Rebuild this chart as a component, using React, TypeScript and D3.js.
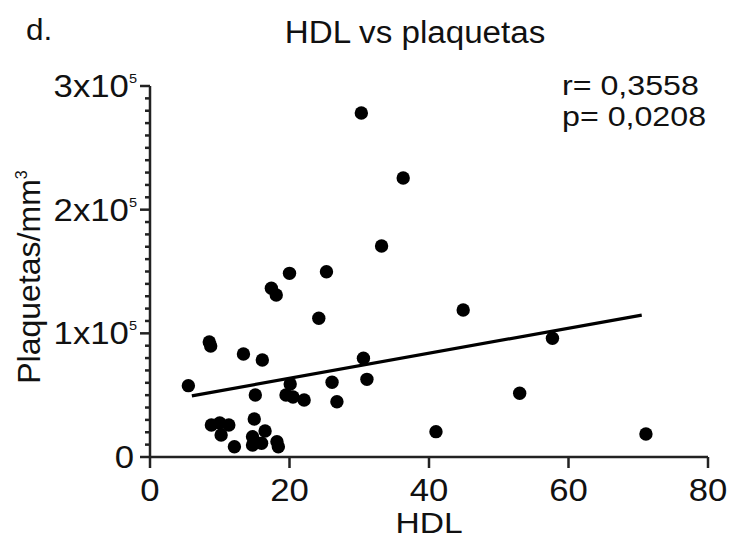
import React, { useEffect } from "react";
import * as d3 from "d3";

const hdl = [5.5, 8.5, 8.7, 20.0, 25.3, 17.4, 18.1, 24.2, 13.4, 16.1, 30.6, 31.1, 26.1, 26.8, 20.1, 19.5, 20.5, 22.1, 15.1, 8.8, 10.0, 11.3, 10.2, 12.1, 14.95, 14.7, 16.5, 16.0, 14.7, 18.2, 18.4, 33.2, 44.9, 57.7, 53.0, 41.0, 71.1, 30.3, 36.3];
const plaquetas = [57700, 93000, 89800, 148500, 149800, 136400, 131000, 112200, 83300, 78400, 79800, 62800, 60400, 44700, 59000, 50100, 48500, 46100, 50100, 25900, 27500, 25900, 17800, 8300, 30700, 16400, 21000, 11100, 9700, 12400, 8300, 170600, 118900, 96000, 51500, 20500, 18600, 278200, 225600];

const fitX = [6, 70.5];
const fitSlope = 1012;
const fitIntercept = 43400;

const xTicks = [0, 20, 40, 60, 80];
const yTicks = [0, 100000, 200000, 300000];
const yTickBase = ["0", "1x10", "2x10", "3x10"];
const yTickExp = ["", "5", "5", "5"];

const title = "HDL vs plaquetas";
const panel = "d.";
const xLabel = "HDL";
const yLabel = "Plaquetas/mm";
const yLabelSup = "3";
const statR = "r= 0,3558";
const statP = "p= 0,0208";

const FONT = "'Liberation Sans', Arial, sans-serif";

function Txt(props: { x: number; y: number; sx?: number; size: number; anchor?: string; children: any }) {
  const { x, y, sx = 1.1, size, anchor = "start", children } = props;
  return (
    <g transform={`translate(${x},${y}) scale(${sx},1)`}>
      <text x={0} y={0} fontSize={size} textAnchor={anchor} fill="#111">{children}</text>
    </g>
  );
}

export default function App() {
  useEffect(() => {
    document.body.style.margin = "0";
  }, []);
  const W = 729, H = 540;
  const x = d3.scaleLinear().domain([0, 80]).range([150, 708]);
  const y = d3.scaleLinear().domain([0, 300000]).range([457, 86]);
  const minor = d3.range(0, 300001, 10000).filter((v) => v % 100000 !== 0);
  const line = d3.line<number>().x((v) => x(v)).y((v) => y(fitIntercept + fitSlope * v));
  const x0 = x(0), y0 = y(0);
  return (
    <svg width={W} height={H} style={{ display: "block", position: "fixed", left: 0, top: 0, background: "#fff" }} fontFamily={FONT}>
      <rect width={W} height={H} fill="#fff" />
      <Txt x={26} y={40} size={30} sx={1.05}>{panel}</Txt>
      <Txt x={415} y={43} size={31} sx={1.07} anchor="middle">{title}</Txt>
      {/* y axis */}
      <line x1={x0} x2={x0} y1={y(300000)} y2={y0 + 1} stroke="#222" strokeWidth={2.5} />
      {minor.map((v) => (
        <line key={"m" + v} x1={x0 - 5} x2={x0} y1={y(v)} y2={y(v)} stroke="#222" strokeWidth={2.5} />
      ))}
      {yTicks.map((v, i) => (
        <g key={"y" + v}>
          <line x1={x0 - 10} x2={x0} y1={y(v)} y2={y(v)} stroke="#222" strokeWidth={2.5} />
          <Txt x={i === 0 ? 134 : 137} y={y(v) + 11} size={31} sx={1.12} anchor="end">
            {yTickBase[i]}
            {yTickExp[i] && <tspan fontSize={13} dy={-14}>{yTickExp[i]}</tspan>}
          </Txt>
        </g>
      ))}
      {/* x axis */}
      <line x1={x0 - 1} x2={x(80)} y1={y0} y2={y0} stroke="#222" strokeWidth={2.5} />
      {xTicks.map((v) => (
        <g key={"x" + v}>
          <line x1={x(v)} x2={x(v)} y1={y0} y2={y0 + 11} stroke="#222" strokeWidth={2.5} />
          <Txt x={x(v)} y={501} size={31} sx={1.12} anchor="middle">{v}</Txt>
        </g>
      ))}
      <Txt x={429} y={533} size={30} sx={1.12} anchor="middle">{xLabel}</Txt>
      <g transform="translate(40,277) rotate(-90)">
        <text x={0} y={0} fontSize={32} textAnchor="middle" fill="#111">
          {yLabel}
          <tspan fontSize={16} dy={-13}>{yLabelSup}</tspan>
        </text>
      </g>
      {/* points */}
      {hdl.map((v, i) => (
        <circle key={"p" + i} cx={x(v)} cy={y(plaquetas[i])} r={6.7} fill="#000" />
      ))}
      <path d={line(fitX) || ""} stroke="#000" strokeWidth={3.2} fill="none" />
      <Txt x={562} y={95} size={28} sx={1.15}>{statR}</Txt>
      <Txt x={562} y={126} size={28} sx={1.15}>{statP}</Txt>
    </svg>
  );
}
